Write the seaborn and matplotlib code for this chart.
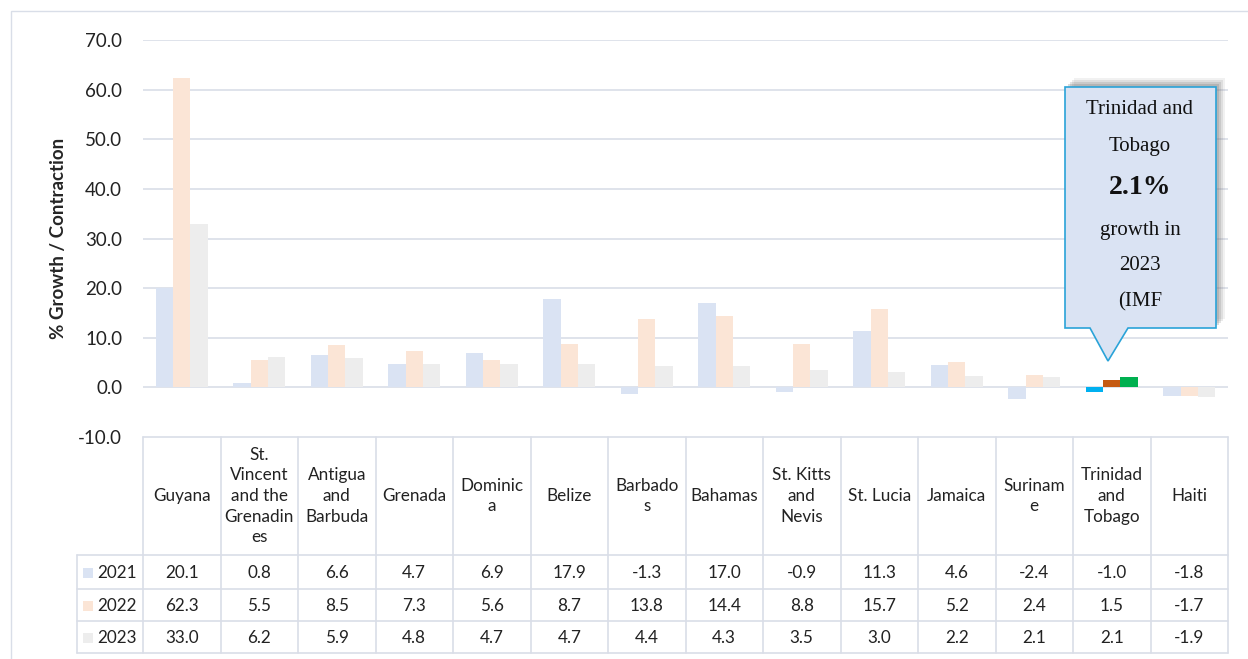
import pandas as pd
import matplotlib.pyplot as plt
import matplotlib.transforms as mtransforms
from matplotlib.patches import Polygon, Rectangle
import seaborn as sns

# Datos
countries = ['Guyana', 'St. Vincent and the Grenadines', 'Antigua and Barbuda', 'Grenada',
             'Dominica', 'Belize', 'Barbados', 'Bahamas', 'St. Kitts and Nevis', 'St. Lucia',
             'Jamaica', 'Suriname', 'Trinidad and Tobago', 'Haiti']
header_labels = ['Guyana', 'St.\nVincent\nand the\nGrenadin\nes', 'Antigua\nand\nBarbuda', 'Grenada',
                 'Dominic\na', 'Belize', 'Barbado\ns', 'Bahamas', 'St. Kitts\nand\nNevis', 'St. Lucia',
                 'Jamaica', 'Surinam\ne', 'Trinidad\nand\nTobago', 'Haiti']
years = ['2021', '2022', '2023']
g2021 = [20.1, 0.8, 6.6, 4.7, 6.9, 17.9, -1.3, 17.0, -0.9, 11.3, 4.6, -2.4, -1.0, -1.8]
g2022 = [62.3, 5.5, 8.5, 7.3, 5.6, 8.7, 13.8, 14.4, 8.8, 15.7, 5.2, 2.4, 1.5, -1.7]
g2023 = [33.0, 6.2, 5.9, 4.8, 4.7, 4.7, 4.4, 4.3, 3.5, 3.0, 2.2, 2.1, 2.1, -1.9]
yticks = [-10, 0, 10, 20, 30, 40, 50, 60, 70]

faded = ['#DAE3F3', '#FBE5D6', '#EDEDED']
highlight = ['#00B0F0', '#C55A11', '#00B050']
focus = 'Trinidad and Tobago'

values = [g2021, g2022, g2023]
df = pd.DataFrame({
    'country': countries * 3,
    'year': [y for y in years for _ in countries],
    'growth': g2021 + g2022 + g2023,
})

W, H = 1248, 659
sns.set_style('white')
plt.rcParams['font.family'] = ['Lato', 'DejaVu Sans']

fig = plt.figure(figsize=(W / 100, H / 100), dpi=100)


def fx(px):
    return px / W


def fy(py):
    return 1 - py / H


# marco exterior (solo se ven arriba e izquierda)
fig.patches.append(Rectangle((fx(11), fy(670)), fx(1260) - fx(11), fy(11) - fy(670),
                             transform=fig.transFigure, fill=False, edgecolor='#D9DEE8', lw=1))

L, R, T, B = 143, 1228, 40, 437
ax = fig.add_axes([fx(L), fy(B), fx(R) - fx(L), fy(T) - fy(B)])
sns.barplot(data=df, x='country', y='growth', hue='year', order=countries, hue_order=years,
            palette=faded, width=0.67, saturation=1, linewidth=0, ax=ax, legend=False)

# resaltar Trinidad y Tobago
idx = countries.index(focus)
for h, cont in enumerate(ax.containers):
    cont[idx].set_facecolor(highlight[h])

ax.set_xlim(-0.5, len(countries) - 0.5)
ax.set_ylim(-10, 70)
ax.set_yticks(yticks)
ax.set_yticklabels([f'{t:.1f}' for t in yticks], fontsize=13.5, color='#222222')
ax.set_xticks([])
ax.set_xlabel('')
ax.set_ylabel('% Growth / Contraction', fontsize=13.5, fontweight='bold', labelpad=8)
ax.tick_params(axis='y', length=0, pad=15)
for t in yticks[1:]:
    ax.axhline(t, color='#D9DEE8', lw=1.2, zorder=0)
for s in ax.spines.values():
    s.set_visible(False)

# tabla de datos
bt = mtransforms.blended_transform_factory(ax.transData, fig.transFigure)
tf = fig.transFigure
line_c = '#D9DEE8'
n = len(countries)
rows_y = [437, 555, 589, 621, 653]
for i in range(n + 1):
    ax.add_line(plt.Line2D([i - 0.5, i - 0.5], [fy(437), fy(653)], transform=bt, color=line_c,
                           lw=1.2, clip_on=False))
for k, ry in enumerate(rows_y):
    x0 = fx(L) if k == 0 else fx(77)
    fig.add_artist(plt.Line2D([x0, fx(R)], [fy(ry), fy(ry)], transform=tf, color=line_c, lw=1.2))
fig.add_artist(plt.Line2D([fx(77), fx(77)], [fy(555), fy(653)], transform=tf, color=line_c, lw=1.2))

for i, lab in enumerate(header_labels):
    ax.text(i, fy(496), lab, transform=bt, ha='center', va='center', fontsize=12.3,
            linespacing=1.35, color='#222222', clip_on=False)

row_centers = [573, 606, 638]
for k, (yr, vals) in enumerate(zip(years, values)):
    yc = fy(row_centers[k])
    fig.patches.append(Rectangle((fx(83), yc - 5 / H), 10 / W, 10 / H, transform=tf,
                                 facecolor=faded[k], edgecolor='none'))
    fig.text(fx(97), yc, yr, ha='left', va='center', fontsize=12.3, color='#222222')
    for i, v in enumerate(vals):
        ax.text(i, yc, f'{v:.1f}', transform=bt, ha='center', va='center', fontsize=12.3,
                color='#222222', clip_on=False)

# llamada
for off, a in [(9, 0.10), (7, 0.15), (5, 0.2), (3, 0.25)]:
    fig.patches.append(Rectangle((fx(1065 + off), fy(328 - off)), fx(1216) - fx(1065),
                                 fy(87) - fy(328), transform=tf, facecolor='#777777',
                                 edgecolor='none', alpha=a))
callout = [(1065, 87), (1216, 87), (1216, 328), (1128, 328), (1108, 361), (1090, 328), (1065, 328)]
fig.patches.append(Polygon([(fx(x), fy(y)) for x, y in callout], closed=True, transform=tf,
                           facecolor='#DAE3F3', edgecolor='#2AA3D8', lw=1.2))
serif = ['Liberation Serif', 'DejaVu Serif']
lines = [('Trinidad and', 110, 15, 'normal'), ('Tobago', 147, 15, 'normal'),
         ('2.1%', 187, 20, 'bold'), ('growth in', 230, 15, 'normal'),
         ('2023', 266, 15, 'normal'), ('(IMF', 302, 15, 'normal')]
for txt, yy, fs, fw in lines:
    fig.text(fx(1140), fy(yy), txt, ha='center', va='center', fontsize=fs, fontweight=fw,
             family=serif, color='#111111')

fig.savefig('out.png', dpi=100)
